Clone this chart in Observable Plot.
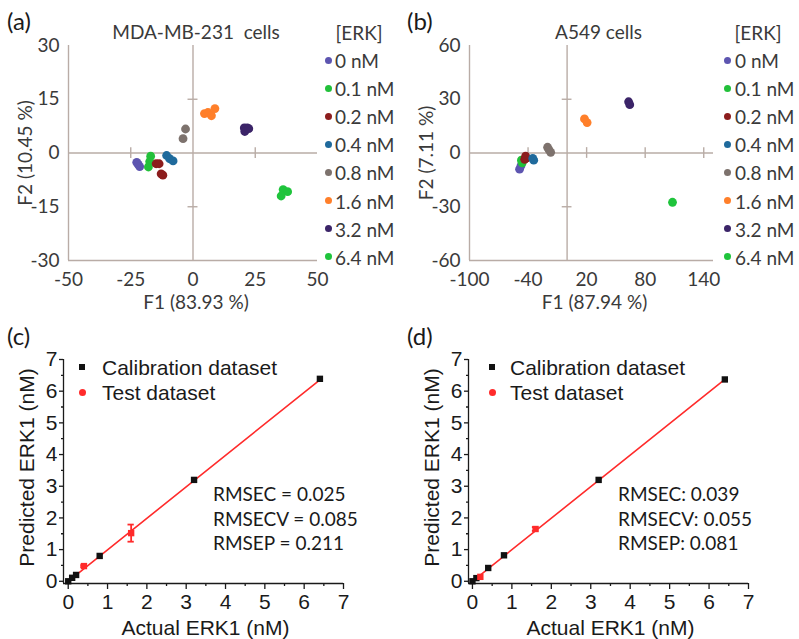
<!DOCTYPE html>
<html><head><meta charset="utf-8">
<script src="https://cdn.jsdelivr.net/npm/d3@7"></script>
<script src="https://cdn.jsdelivr.net/npm/@observablehq/plot@0.6"></script>
<style>
body{margin:0;background:#fff}
#fig{position:relative;width:799px;height:639px;overflow:hidden;background:#fff}
.lbl{position:absolute;white-space:nowrap;line-height:1}
</style></head><body><div id="fig"></div>
<script>
// ---------- data ----------
const concs = ["0 nM","0.1 nM","0.2 nM","0.4 nM","0.8 nM","1.6 nM","3.2 nM","6.4 nM"];
const concColors = ["#5d55b0","#22c03a","#8c1d1d","#1f6a9c","#7d726d","#ff7f2a","#3b2468","#1fc43c"];

// (a) MDA-MB-231 PCA scores
const aGroup = [0,0,0, 1,1,1, 2,2,2,2, 3,3,3, 4,4, 5,5,5,5, 6,6,6,6, 7,7,7];
const aF1 = [-22.6,-22.0,-21.4, -17.0,-17.4,-17.9, -14.8,-13.6,-12.8,-12.1, -10.6,-9.4,-8.0, -3.0,-4.0, 4.6,6.0,7.4,8.8, 20.6,21.8,20.8,22.4, 36.2,38.0,35.4];
const aF2 = [-2.6,-3.2,-3.8, -0.9,-2.4,-3.9, -3.0,-3.0,-5.8,-6.2, -0.7,-1.6,-2.2, 6.7,4.0, 11.0,11.3,10.4,12.4, 7.0,7.0,6.0,6.8, -10.2,-10.8,-12.0];

// (b) A549 PCA scores
const bGroup = [0,0, 1,1, 2,2,2, 3,3, 4,4,4, 5,5, 6,6, 7];
const bF1 = [-48.7,-47.2, -46.8,-46.0, -43.5,-42.5,-42.0, -35.2,-34.2, -20.0,-18.5,-16.8, 17.8,20.5, 63.0,64.2, 108.0];
const bF2 = [-9.0,-7.0, -4.0,-5.5, -3.5,-1.8,-2.8, -3.0,-4.0, 3.2,1.8,0.4, 19.0,17.0, 28.6,27.0, -27.5];

// (c) PLS, MDA-MB-231
const cCalX = [0, 0.1, 0.2, 0.8, 3.2, 6.4];
const cCalY = [0, 0.11, 0.2, 0.8, 3.2, 6.39];
const cTestX = [0.4, 1.6];
const cTestY = [0.48, 1.52];
const cTestErr = [0.03, 0.27];
const cFitX = [0, 6.4];
const cFitY = [0.0, 6.36];
const cStats = ["RMSEC = 0.025", "RMSECV = 0.085", "RMSEP = 0.211"];

// (d) PLS, A549
const dCalX = [0, 0.1, 0.4, 0.8, 3.2, 6.4];
const dCalY = [0, 0.1, 0.42, 0.82, 3.2, 6.37];
const dTestX = [0.2, 1.6];
const dTestY = [0.14, 1.65];
const dTestErr = [0.03, 0.06];
const dFitX = [0, 6.4];
const dFitY = [0.0, 6.37];
const dStats = ["RMSEC: 0.039", "RMSECV: 0.055", "RMSEP: 0.081"];

const plsTicks = [0,1,2,3,4,5,6,7];
const plsMinor = [0.5,1.5,2.5,3.5,4.5,5.5,6.5];
const legendPLS = ["Calibration dataset", "Test dataset"];

// ---------- layout helpers ----------
const fig = document.getElementById("fig");
const fontA = "Lato, 'Open Sans', sans-serif";
const fontC = "'Liberation Sans', Arial, sans-serif";
const frameA = "#b9aca6";
const red = "#ff2b2b";

function place(el, left, top) {
  el.style.position = "absolute";
  el.style.left = left + "px";
  el.style.top = top + "px";
  fig.appendChild(el);
}
function label(text, left, cy, css, center) {
  const d = document.createElement("div");
  d.className = "lbl";
  d.textContent = text;
  Object.assign(d.style, css);
  d.style.left = left + "px";
  d.style.top = cy + "px";
  d.style.transform = center ? "translate(-50%,-50%)" : "translateY(-50%)";
  fig.appendChild(d);
  return d;
}
function swatch(cx, cy, size, color, round) {
  const d = document.createElement("div");
  Object.assign(d.style, {position:"absolute", left:(cx-size/2)+"px", top:(cy-size/2)+"px",
    width:size+"px", height:size+"px", background:color, borderRadius: round ? "50%" : "0"});
  fig.appendChild(d);
}

// ---------- PCA panels ----------
function pcaPanel(o) {
  const data = o.f1.map((v, i) => ({f1: v, f2: o.f2[i], conc: concs[o.grp[i]]}));
  return Plot.plot({
    width: o.width, height: 320,
    marginLeft: o.ml, marginRight: o.mr, marginTop: 45, marginBottom: 60,
    style: {fontFamily: fontA, fontSize: "19px", color: "#3a3a3a", background: "transparent", overflow: "visible"},
    x: {domain: o.xdom, ticks: o.xticks, tickSize: 0, tickPadding: 12, tickFormat: d => String(d), label: null},
    y: {domain: o.ydom, ticks: o.yticks, tickSize: 0, tickPadding: 9, tickFormat: d => String(d), label: null},
    color: {domain: concs, range: concColors},
    marks: [
      Plot.ruleX([o.xdom[0]], {stroke: frameA, strokeWidth: 1.4}),
      Plot.ruleY([o.ydom[0]], {stroke: frameA, strokeWidth: 1.4}),
      Plot.ruleX([0], {stroke: frameA, strokeWidth: 1.4}),
      Plot.ruleY([0], {stroke: frameA, strokeWidth: 1.4}),
      Plot.ruleX(o.xcross, {y1: -o.crossY, y2: o.crossY, stroke: frameA, strokeWidth: 1.4}),
      Plot.ruleY(o.ycross, {x1: -o.crossX, x2: o.crossX, stroke: frameA, strokeWidth: 1.4}),
      Plot.dot(data, {x: "f1", y: "f2", fill: "conc", r: 4.4}),
      Plot.text([o.title], {text: d => d, frameAnchor: "top", dy: -13, dx: o.titleDx, lineAnchor: "middle", textAnchor: "middle", fontSize: 19}),
      Plot.text([o.xlab], {text: d => d, frameAnchor: "bottom", dy: 42, dx: 3, lineAnchor: "middle", textAnchor: "middle", fontSize: 19}),
      Plot.text([o.ylab], {text: d => d, frameAnchor: "left", dx: -43, rotate: -90, lineAnchor: "middle", textAnchor: "middle", fontSize: 19})
    ]
  });
}

place(pcaPanel({f1: aF1, f2: aF2, grp: aGroup, width: 400, ml: 68, mr: 83,
  xdom: [-50, 50], xticks: [-50, -25, 0, 25, 50], ydom: [-30, 30], yticks: [-30, -15, 0, 15, 30],
  xcross: [-25, 25], crossY: 1.5, ycross: [-15, 15], crossX: 2,
  title: "MDA-MB-231\u00a0 cells", titleDx: 3, xlab: "F1 (83.93 %)", ylab: "F2 (10.45 %)"}), 0, 0);

place(pcaPanel({f1: bF1, f2: bF2, grp: bGroup, width: 399, ml: 69, mr: 86,
  xdom: [-100, 150], xticks: [-100, -40, 20, 80, 140], ydom: [-60, 60], yticks: [-60, -30, 0, 30, 60],
  xcross: [-40, 20, 80, 140], crossY: 3, ycross: [-30, 30], crossX: 5,
  title: "A549 cells", titleDx: 7, xlab: "F1 (87.94 %)", ylab: "F2 (7.11 %)"}), 400, 0);

// PCA legends
function pcaLegend(headX, dotX, textX) {
  const css = {fontFamily: fontA, fontSize: "19px", color: "#3a3a3a"};
  label("[ERK]", headX, 32, css, true);
  concs.forEach((c, i) => {
    const cy = 60 + 28.1 * i;
    swatch(dotX, cy, 7, concColors[i], true);
    label(c, textX, cy, css, false);
  });
}
pcaLegend(359, 328, 335);
pcaLegend(758, 727, 735);

// ---------- PLS panels ----------
function plsPanel(o) {
  const cal = o.calX.map((x, i) => ({x, y: o.calY[i]}));
  const test = o.testX.map((x, i) => ({x, y: o.testY[i], lo: o.testY[i] - o.testErr[i], hi: o.testY[i] + o.testErr[i]}));
  const fit = o.fitX.map((x, i) => ({x, y: o.fitY[i]}));
  const ydom = [-0.07, 7];
  return Plot.plot({
    width: o.width, height: 319,
    marginLeft: o.ml, marginRight: o.mr, marginTop: 39, marginBottom: 56,
    style: {fontFamily: fontC, fontSize: "21px", color: "#1a1a1a", background: "transparent", overflow: "visible"},
    x: {domain: o.xdom},
    y: {domain: ydom},
    marks: [
      Plot.axisX(plsTicks, {tickSize: 6, tickPadding: 5, tickFormat: d => String(d), label: null, strokeWidth: 1.3}),
      Plot.axisX(plsMinor, {tickSize: 3, tickFormat: () => "", label: null, strokeWidth: 1.3}),
      Plot.axisY(plsTicks, {tickSize: 4, tickPadding: 2, tickFormat: d => String(d), label: null, strokeWidth: 1.3}),
      Plot.axisY(plsMinor, {tickSize: 2, tickFormat: () => "", label: null, strokeWidth: 1.3}),
      Plot.ruleX([o.xdom[0]], {stroke: "#1a1a1a", strokeWidth: 1.3}),
      Plot.ruleY([ydom[0]], {stroke: "#1a1a1a", strokeWidth: 1.3}),
      Plot.line(fit, {x: "x", y: "y", stroke: red, strokeWidth: 1.6}),
      Plot.ruleX(test, {x: "x", y1: "lo", y2: "hi", stroke: red, strokeWidth: 1.8}),
      Plot.ruleY(test, {y: "lo", x1: d => d.x - 0.08, x2: d => d.x + 0.08, stroke: red, strokeWidth: 1.8}),
      Plot.ruleY(test, {y: "hi", x1: d => d.x - 0.08, x2: d => d.x + 0.08, stroke: red, strokeWidth: 1.8}),
      Plot.dot(cal, {x: "x", y: "y", symbol: "square", fill: "#111", r: 3.6}),
      Plot.dot(test, {x: "x", y: "y", symbol: "square", fill: red, r: 3.6}),
      Plot.text(["Predicted ERK1 (nM)"], {text: d => d, frameAnchor: "left", dx: -36, dy: -4, rotate: -90, lineAnchor: "middle", textAnchor: "middle", fontSize: 21}),
      Plot.text(["Actual ERK1 (nM)"], {text: d => d, frameAnchor: "bottom", dy: 45, dx: 2, lineAnchor: "middle", textAnchor: "middle", fontSize: 21})
    ]
  });
}

place(plsPanel({calX: cCalX, calY: cCalY, testX: cTestX, testY: cTestY, testErr: cTestErr,
  fitX: cFitX, fitY: cFitY, xdom: [-0.12, 7], width: 400, ml: 63, mr: 57}), 0, 320);
place(plsPanel({calX: dCalX, calY: dCalY, testX: dTestX, testY: dTestY, testErr: dTestErr,
  fitX: dFitX, fitY: dFitY, xdom: [-0.1, 7], width: 399, ml: 68, mr: 51}), 400, 320);

// PLS legends and statistics
function plsLegend(symX, textX) {
  const css = {fontFamily: fontC, fontSize: "21px", color: "#1a1a1a"};
  swatch(symX, 367, 6, "#111", false);
  label(legendPLS[0], textX, 367, css, false);
  swatch(symX, 392, 7, red, true);
  label(legendPLS[1], textX, 392, css, false);
}
plsLegend(82, 102);
plsLegend(492, 510);

function stats(lines, left) {
  const css = {fontFamily: fontA, fontSize: "19px", color: "#1a1a1a"};
  lines.forEach((t, i) => label(t, left, 493 + 24.5 * i, css, false));
}
stats(cStats, 213);
stats(dStats, 618);

// panel letters
const letterCss = {fontFamily: fontA, fontSize: "24px", color: "#1a1a1a"};
label("(a)", 7, 21, letterCss, false);
label("(b)", 407, 21, letterCss, false);
label("(c)", 7, 336, letterCss, false);
label("(d)", 407, 336, letterCss, false);
</script>
</body></html>
